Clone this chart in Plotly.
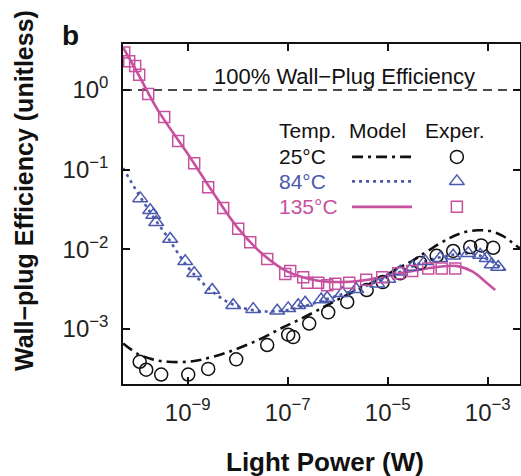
import numpy as np
import plotly.graph_objects as go

# ---------------- data (log10 values) ----------------
# Model curves
m25_logx = [-10.29, -10.0, -9.7, -9.4, -9.0, -8.7, -8.2, -7.6, -7.1, -6.7, -6.3, -6.0,
            -5.65, -5.2, -4.8, -4.5, -4.2, -3.8, -3.5, -3.2, -2.95, -2.7, -2.5, -2.35]
m25_logy = [-3.18, -3.31, -3.38, -3.41, -3.41, -3.38, -3.29, -3.14, -2.98, -2.86, -2.73, -2.63,
            -2.52, -2.38, -2.24, -2.14, -2.02, -1.87, -1.79, -1.76, -1.77, -1.83, -1.92, -1.99]

m84_logx = [-10.29, -10.0, -9.7, -9.4, -9.0, -8.6, -8.2, -7.8, -7.4, -7.0, -6.6, -6.2,
            -5.8, -5.4, -5.0, -4.6, -4.2, -3.8, -3.5, -3.2, -2.9, -2.65]
m84_logy = [-0.98, -1.29, -1.58, -1.85, -2.22, -2.48, -2.66, -2.75, -2.78, -2.76, -2.70, -2.62,
            -2.54, -2.45, -2.35, -2.24, -2.14, -2.08, -2.05, -2.07, -2.16, -2.26]

m135_logx = [-10.29, -10.0, -9.6, -9.0, -8.5, -8.0, -7.5, -7.0, -6.5, -6.0, -5.5, -5.0,
             -4.5, -4.0, -3.6, -3.3, -3.0, -2.85]
m135_logy = [0.53, 0.21, -0.25, -0.80, -1.28, -1.73, -2.06, -2.28, -2.38, -2.41, -2.39, -2.33,
             -2.27, -2.22, -2.21, -2.28, -2.43, -2.51]

# Experimental points
e25_logx = [-9.96, -9.83, -9.53, -8.99, -8.59, -8.03, -7.41, -6.99, -6.89, -6.57, -6.19,
            -5.81, -5.42, -5.10, -4.75, -4.35, -4.02, -3.69, -3.35, -3.13, -2.89]
e25_logy = [-3.41, -3.51, -3.57, -3.57, -3.50, -3.38, -3.20, -3.07, -3.10, -2.93, -2.79,
            -2.66, -2.51, -2.41, -2.30, -2.17, -2.08, -2.02, -1.97, -1.95, -1.98]

e84_logx = [-9.95, -9.75, -9.69, -9.63, -9.35, -9.05, -8.87, -8.51, -8.09, -7.69, -7.21,
            -6.99, -6.79, -6.65, -6.33, -6.21, -5.91, -5.63, -5.21, -4.99, -4.75, -4.50,
            -4.25, -3.95, -3.69, -3.39, -3.15, -3.02, -2.92, -2.79]
e84_logy = [-1.36, -1.51, -1.57, -1.66, -1.87, -2.15, -2.30, -2.51, -2.70, -2.75, -2.77,
            -2.74, -2.70, -2.67, -2.63, -2.61, -2.55, -2.50, -2.43, -2.37, -2.28, -2.22,
            -2.15, -2.11, -2.08, -2.05, -2.07, -2.11, -2.19, -2.22]

e135_logx = [-10.27, -10.17, -10.05, -9.97, -9.79, -9.47, -9.19, -8.87, -8.59, -8.29,
             -7.99, -7.75, -7.41, -7.05, -6.95, -6.69, -6.61, -6.39, -6.21, -6.05,
             -5.77, -5.43, -5.11, -4.79, -4.51, -4.19, -3.92, -3.65]
e135_logy = [0.47, 0.36, 0.30, 0.19, -0.05, -0.34, -0.64, -0.92, -1.22, -1.48,
             -1.74, -1.91, -2.12, -2.31, -2.27, -2.35, -2.42, -2.42, -2.45, -2.43,
             -2.42, -2.38, -2.35, -2.30, -2.27, -2.24, -2.24, -2.24]

ref_level = 1.0  # 100% wall-plug efficiency

x_tickvals = [1e-9, 1e-7, 1e-5, 1e-3]
x_ticktext = ["10<sup>\u22129</sup>", "10<sup>\u22127</sup>", "10<sup>\u22125</sup>", "10<sup>\u22123</sup>"]
y_tickvals = [1e-3, 1e-2, 1e-1, 1e0]
y_ticktext = ["10<sup>\u22123</sup>", "10<sup>\u22122</sup>", "10<sup>\u22121</sup>", "10<sup>0</sup>"]

temps = ["25°C", "84°C", "135°C"]

# ---------------- styles ----------------
BLACK = "#111111"
BLUE = "#4a58ad"
MAG = "#c8519f"
FONT = "Liberation Sans, Arial, sans-serif"

X_RANGE = [-10.294, -2.354]
Y_RANGE = [-3.689, 0.577]


def p(v):
    return (10.0 ** np.array(v)).tolist()


fig = go.Figure()

# reference line at 100%
fig.add_trace(go.Scatter(x=[10 ** X_RANGE[0], 10 ** X_RANGE[1]], y=[ref_level, ref_level],
                         mode="lines", line=dict(color=BLACK, width=1.4, dash="9px,6px"),
                         showlegend=False, hoverinfo="skip"))

# model curves
fig.add_trace(go.Scatter(x=p(m25_logx), y=p(m25_logy), mode="lines", line_shape="spline",
                         line=dict(color=BLACK, width=2.6, dash="11px,5px,3px,5px"), showlegend=False))
fig.add_trace(go.Scatter(x=p(m84_logx), y=p(m84_logy), mode="lines", line_shape="spline",
                         line=dict(color=BLUE, width=2.6, dash="3px,4px"), showlegend=False))
fig.add_trace(go.Scatter(x=p(m135_logx), y=p(m135_logy), mode="lines", line_shape="spline",
                         line=dict(color=MAG, width=2.6), showlegend=False))

# experimental points
fig.add_trace(go.Scatter(x=p(e25_logx), y=p(e25_logy), mode="markers",
                         marker=dict(symbol="circle-open", size=13, color=BLACK, line=dict(width=1.5)),
                         showlegend=False))
fig.add_trace(go.Scatter(x=p(e84_logx), y=p(e84_logy), mode="markers",
                         marker=dict(symbol="triangle-up-open", size=13, color=BLUE, line=dict(width=1.5)),
                         showlegend=False))
fig.add_trace(go.Scatter(x=p(e135_logx), y=p(e135_logy), mode="markers",
                         marker=dict(symbol="square-open", size=11, color=MAG, line=dict(width=1.5)),
                         showlegend=False))

# ---------------- custom legend on an overlay (0..1) axis pair ----------------
leg_rows_y = [0.668, 0.596, 0.521]
leg_line_x = [0.577, 0.728]
leg_mark_x = 0.841
line_styles = [dict(color=BLACK, width=2.6, dash="11px,5px,3px,5px"),
               dict(color=BLUE, width=2.6, dash="3px,4px"),
               dict(color=MAG, width=2.6)]
mark_styles = [dict(symbol="circle-open", size=13, color=BLACK, line=dict(width=1.5)),
               dict(symbol="triangle-up-open", size=13, color=BLUE, line=dict(width=1.5)),
               dict(symbol="square-open", size=11, color=MAG, line=dict(width=1.5))]
text_colors = [BLACK, BLUE, MAG]
for ry, ls, ms in zip(leg_rows_y, line_styles, mark_styles):
    fig.add_trace(go.Scatter(x=leg_line_x, y=[ry, ry], mode="lines", line=ls,
                             xaxis="x2", yaxis="y2", showlegend=False, hoverinfo="skip"))
    fig.add_trace(go.Scatter(x=[leg_mark_x], y=[ry], mode="markers", marker=ms,
                             xaxis="x2", yaxis="y2", showlegend=False, hoverinfo="skip"))

annotations = []
# headers
for txt, xx in [("Temp.", 0.388), ("Model", 0.641), ("Exper.", 0.836)]:
    annotations.append(dict(text=txt, x=xx, y=0.745, xref="paper", yref="paper",
                            xanchor="left" if txt == "Temp." else "center", yanchor="middle",
                            showarrow=False, font=dict(family=FONT, size=21, color=BLACK)))
for txt, ry, col in zip(temps, leg_rows_y, text_colors):
    annotations.append(dict(text=txt, x=0.388, y=ry, xref="paper", yref="paper",
                            xanchor="left", yanchor="middle", showarrow=False,
                            font=dict(family=FONT, size=21, color=col)))

annotations.append(dict(text="100% Wall\u2212Plug Efficiency", x=0.559, y=0.903, xref="paper", yref="paper",
                        xanchor="center", yanchor="middle", showarrow=False,
                        font=dict(family=FONT, size=22, color=BLACK)))
annotations.append(dict(text="<b>Wall\u2212plug Efficiency (unitless)</b>", x=-0.249, y=0.568,
                        xref="paper", yref="paper", textangle=-90, xanchor="center", yanchor="middle",
                        showarrow=False, font=dict(family=FONT, size=25, color=BLACK)))
annotations.append(dict(text="<b>Light Power (W)</b>", x=0.509, y=-0.229, xref="paper", yref="paper",
                        xanchor="center", yanchor="middle", showarrow=False,
                        font=dict(family=FONT, size=26, color=BLACK)))
annotations.append(dict(text="<b>b</b>", x=-0.131, y=1.024, xref="paper", yref="paper",
                        xanchor="center", yanchor="middle", showarrow=False,
                        font=dict(family=FONT, size=28, color=BLACK)))

axis_common = dict(showline=True, linecolor=BLACK, linewidth=1.5, mirror="ticks",
                   ticks="inside", ticklen=7, tickwidth=1.5, tickcolor=BLACK,
                   showgrid=False, zeroline=False, automargin=False,
                   tickfont=dict(family=FONT, size=24, color="#222222"))

fig.update_layout(
    width=521, height=476,
    margin=dict(l=123, r=1, t=44, b=92, autoexpand=False),
    paper_bgcolor="white", plot_bgcolor="white",
    showlegend=False,
    xaxis=dict(type="log", range=X_RANGE, tickmode="array", tickvals=x_tickvals, ticktext=x_ticktext,
               ticklabelstandoff=6, **axis_common),
    yaxis=dict(type="log", range=Y_RANGE, tickmode="array", tickvals=y_tickvals, ticktext=y_ticktext,
               ticklabelstandoff=8, **axis_common),
    xaxis2=dict(overlaying="x", range=[0, 1], visible=False, fixedrange=True),
    yaxis2=dict(overlaying="y", range=[0, 1], visible=False, fixedrange=True),
    annotations=annotations,
)

fig.write_html("out.html", config={"displayModeBar": False},
               post_script="document.body.style.margin='0px';document.body.style.overflow='hidden';")
